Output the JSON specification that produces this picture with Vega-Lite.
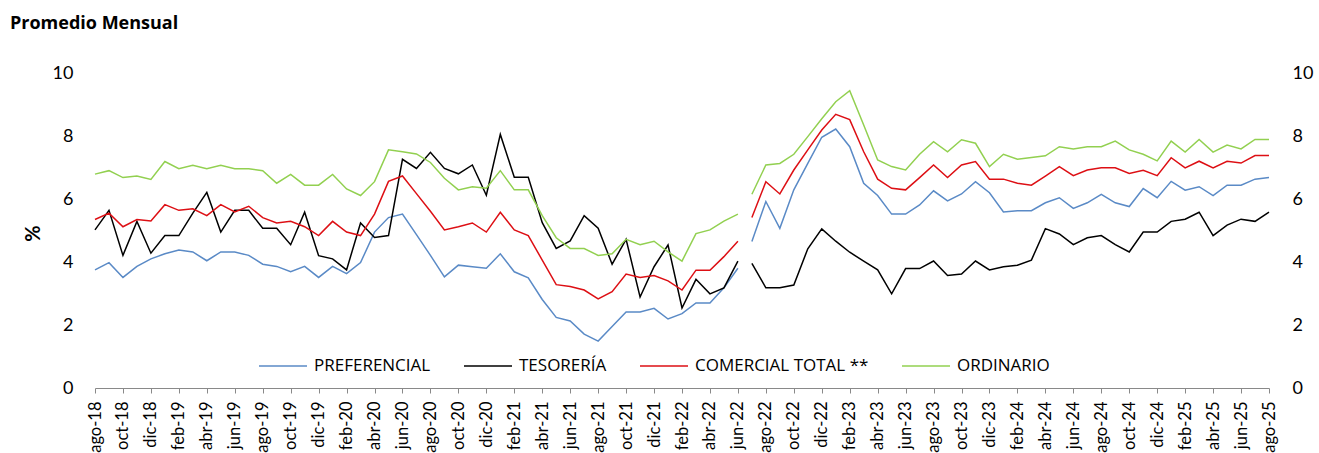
{
  "$schema": "https://vega.github.io/schema/vega-lite/v6.json",
  "autosize": "none",
  "width": 1174,
  "height": 315,
  "padding": {"left": 95, "top": 73, "right": 50, "bottom": 65},
  "background": "white",
  "title": {"text": "Promedio Mensual", "anchor": "start", "frame": "group", "dx": -85, "offset": 31, "font": "Open Sans", "fontSize": 18, "fontWeight": "bold", "color": "#000000"},
  "data": {"values": [
    {"mes": "ago-18", "tramo": 1, "PREFERENCIAL": 3.75, "TESORERÍA": 5.02, "COMERCIAL TOTAL **": 5.35, "ORDINARIO": 6.79},
    {"mes": "sep-18", "tramo": 1, "PREFERENCIAL": 3.98, "TESORERÍA": 5.64, "COMERCIAL TOTAL **": 5.55, "ORDINARIO": 6.90},
    {"mes": "oct-18", "tramo": 1, "PREFERENCIAL": 3.51, "TESORERÍA": 4.21, "COMERCIAL TOTAL **": 5.12, "ORDINARIO": 6.68},
    {"mes": "nov-18", "tramo": 1, "PREFERENCIAL": 3.86, "TESORERÍA": 5.29, "COMERCIAL TOTAL **": 5.35, "ORDINARIO": 6.73},
    {"mes": "dic-18", "tramo": 1, "PREFERENCIAL": 4.10, "TESORERÍA": 4.28, "COMERCIAL TOTAL **": 5.30, "ORDINARIO": 6.62},
    {"mes": "ene-19", "tramo": 1, "PREFERENCIAL": 4.26, "TESORERÍA": 4.84, "COMERCIAL TOTAL **": 5.82, "ORDINARIO": 7.19},
    {"mes": "feb-19", "tramo": 1, "PREFERENCIAL": 4.38, "TESORERÍA": 4.84, "COMERCIAL TOTAL **": 5.64, "ORDINARIO": 6.96},
    {"mes": "mar-19", "tramo": 1, "PREFERENCIAL": 4.32, "TESORERÍA": 5.55, "COMERCIAL TOTAL **": 5.69, "ORDINARIO": 7.07},
    {"mes": "abr-19", "tramo": 1, "PREFERENCIAL": 4.04, "TESORERÍA": 6.21, "COMERCIAL TOTAL **": 5.47, "ORDINARIO": 6.96},
    {"mes": "may-19", "tramo": 1, "PREFERENCIAL": 4.32, "TESORERÍA": 4.95, "COMERCIAL TOTAL **": 5.82, "ORDINARIO": 7.07},
    {"mes": "jun-19", "tramo": 1, "PREFERENCIAL": 4.32, "TESORERÍA": 5.64, "COMERCIAL TOTAL **": 5.59, "ORDINARIO": 6.96},
    {"mes": "jul-19", "tramo": 1, "PREFERENCIAL": 4.21, "TESORERÍA": 5.64, "COMERCIAL TOTAL **": 5.77, "ORDINARIO": 6.96},
    {"mes": "ago-19", "tramo": 1, "PREFERENCIAL": 3.93, "TESORERÍA": 5.07, "COMERCIAL TOTAL **": 5.41, "ORDINARIO": 6.90},
    {"mes": "sep-19", "tramo": 1, "PREFERENCIAL": 3.86, "TESORERÍA": 5.07, "COMERCIAL TOTAL **": 5.24, "ORDINARIO": 6.50},
    {"mes": "oct-19", "tramo": 1, "PREFERENCIAL": 3.69, "TESORERÍA": 4.55, "COMERCIAL TOTAL **": 5.29, "ORDINARIO": 6.78},
    {"mes": "nov-19", "tramo": 1, "PREFERENCIAL": 3.86, "TESORERÍA": 5.58, "COMERCIAL TOTAL **": 5.12, "ORDINARIO": 6.44},
    {"mes": "dic-19", "tramo": 1, "PREFERENCIAL": 3.51, "TESORERÍA": 4.20, "COMERCIAL TOTAL **": 4.84, "ORDINARIO": 6.44},
    {"mes": "ene-20", "tramo": 1, "PREFERENCIAL": 3.86, "TESORERÍA": 4.10, "COMERCIAL TOTAL **": 5.29, "ORDINARIO": 6.78},
    {"mes": "feb-20", "tramo": 1, "PREFERENCIAL": 3.63, "TESORERÍA": 3.75, "COMERCIAL TOTAL **": 4.95, "ORDINARIO": 6.32},
    {"mes": "mar-20", "tramo": 1, "PREFERENCIAL": 3.98, "TESORERÍA": 5.24, "COMERCIAL TOTAL **": 4.84, "ORDINARIO": 6.11},
    {"mes": "abr-20", "tramo": 1, "PREFERENCIAL": 4.95, "TESORERÍA": 4.78, "COMERCIAL TOTAL **": 5.52, "ORDINARIO": 6.55},
    {"mes": "may-20", "tramo": 1, "PREFERENCIAL": 5.41, "TESORERÍA": 4.84, "COMERCIAL TOTAL **": 6.56, "ORDINARIO": 7.56},
    {"mes": "jun-20", "tramo": 1, "PREFERENCIAL": 5.52, "TESORERÍA": 7.26, "COMERCIAL TOTAL **": 6.73, "ORDINARIO": 7.50},
    {"mes": "jul-20", "tramo": 1, "PREFERENCIAL": 4.87, "TESORERÍA": 6.97, "COMERCIAL TOTAL **": 6.17, "ORDINARIO": 7.43},
    {"mes": "ago-20", "tramo": 1, "PREFERENCIAL": 4.21, "TESORERÍA": 7.48, "COMERCIAL TOTAL **": 5.61, "ORDINARIO": 7.16},
    {"mes": "sep-20", "tramo": 1, "PREFERENCIAL": 3.53, "TESORERÍA": 6.97, "COMERCIAL TOTAL **": 5.02, "ORDINARIO": 6.66},
    {"mes": "oct-20", "tramo": 1, "PREFERENCIAL": 3.90, "TESORERÍA": 6.80, "COMERCIAL TOTAL **": 5.12, "ORDINARIO": 6.29},
    {"mes": "nov-20", "tramo": 1, "PREFERENCIAL": 3.85, "TESORERÍA": 7.08, "COMERCIAL TOTAL **": 5.24, "ORDINARIO": 6.39},
    {"mes": "dic-20", "tramo": 1, "PREFERENCIAL": 3.80, "TESORERÍA": 6.12, "COMERCIAL TOTAL **": 4.95, "ORDINARIO": 6.34},
    {"mes": "ene-21", "tramo": 1, "PREFERENCIAL": 4.26, "TESORERÍA": 8.05, "COMERCIAL TOTAL **": 5.58, "ORDINARIO": 6.90},
    {"mes": "feb-21", "tramo": 1, "PREFERENCIAL": 3.69, "TESORERÍA": 6.69, "COMERCIAL TOTAL **": 5.02, "ORDINARIO": 6.29},
    {"mes": "mar-21", "tramo": 1, "PREFERENCIAL": 3.50, "TESORERÍA": 6.69, "COMERCIAL TOTAL **": 4.84, "ORDINARIO": 6.29},
    {"mes": "abr-21", "tramo": 1, "PREFERENCIAL": 2.81, "TESORERÍA": 5.25, "COMERCIAL TOTAL **": 4.06, "ORDINARIO": 5.47},
    {"mes": "may-21", "tramo": 1, "PREFERENCIAL": 2.24, "TESORERÍA": 4.43, "COMERCIAL TOTAL **": 3.28, "ORDINARIO": 4.77},
    {"mes": "jun-21", "tramo": 1, "PREFERENCIAL": 2.13, "TESORERÍA": 4.67, "COMERCIAL TOTAL **": 3.22, "ORDINARIO": 4.43},
    {"mes": "jul-21", "tramo": 1, "PREFERENCIAL": 1.71, "TESORERÍA": 5.47, "COMERCIAL TOTAL **": 3.11, "ORDINARIO": 4.43},
    {"mes": "ago-21", "tramo": 1, "PREFERENCIAL": 1.49, "TESORERÍA": 5.07, "COMERCIAL TOTAL **": 2.83, "ORDINARIO": 4.21},
    {"mes": "sep-21", "tramo": 1, "PREFERENCIAL": 1.95, "TESORERÍA": 3.93, "COMERCIAL TOTAL **": 3.06, "ORDINARIO": 4.26},
    {"mes": "oct-21", "tramo": 1, "PREFERENCIAL": 2.41, "TESORERÍA": 4.72, "COMERCIAL TOTAL **": 3.62, "ORDINARIO": 4.72},
    {"mes": "nov-21", "tramo": 1, "PREFERENCIAL": 2.41, "TESORERÍA": 2.89, "COMERCIAL TOTAL **": 3.51, "ORDINARIO": 4.55},
    {"mes": "dic-21", "tramo": 1, "PREFERENCIAL": 2.53, "TESORERÍA": 3.85, "COMERCIAL TOTAL **": 3.57, "ORDINARIO": 4.66},
    {"mes": "ene-22", "tramo": 1, "PREFERENCIAL": 2.19, "TESORERÍA": 4.54, "COMERCIAL TOTAL **": 3.40, "ORDINARIO": 4.32},
    {"mes": "feb-22", "tramo": 1, "PREFERENCIAL": 2.36, "TESORERÍA": 2.54, "COMERCIAL TOTAL **": 3.11, "ORDINARIO": 4.03},
    {"mes": "mar-22", "tramo": 1, "PREFERENCIAL": 2.70, "TESORERÍA": 3.45, "COMERCIAL TOTAL **": 3.74, "ORDINARIO": 4.90},
    {"mes": "abr-22", "tramo": 1, "PREFERENCIAL": 2.70, "TESORERÍA": 2.99, "COMERCIAL TOTAL **": 3.74, "ORDINARIO": 5.02},
    {"mes": "may-22", "tramo": 1, "PREFERENCIAL": 3.18, "TESORERÍA": 3.18, "COMERCIAL TOTAL **": 4.17, "ORDINARIO": 5.30},
    {"mes": "jun-22", "tramo": 1, "PREFERENCIAL": 3.80, "TESORERÍA": 4.03, "COMERCIAL TOTAL **": 4.66, "ORDINARIO": 5.52},
    {"mes": "jul-22", "tramo": 2, "PREFERENCIAL": 4.65, "TESORERÍA": 3.96, "COMERCIAL TOTAL **": 5.41, "ORDINARIO": 6.15},
    {"mes": "ago-22", "tramo": 2, "PREFERENCIAL": 5.92, "TESORERÍA": 3.18, "COMERCIAL TOTAL **": 6.55, "ORDINARIO": 7.08},
    {"mes": "sep-22", "tramo": 2, "PREFERENCIAL": 5.07, "TESORERÍA": 3.18, "COMERCIAL TOTAL **": 6.16, "ORDINARIO": 7.13},
    {"mes": "oct-22", "tramo": 2, "PREFERENCIAL": 6.29, "TESORERÍA": 3.27, "COMERCIAL TOTAL **": 6.92, "ORDINARIO": 7.42},
    {"mes": "nov-22", "tramo": 2, "PREFERENCIAL": 7.13, "TESORERÍA": 4.42, "COMERCIAL TOTAL **": 7.56, "ORDINARIO": 7.98},
    {"mes": "dic-22", "tramo": 2, "PREFERENCIAL": 7.96, "TESORERÍA": 5.05, "COMERCIAL TOTAL **": 8.19, "ORDINARIO": 8.55},
    {"mes": "ene-23", "tramo": 2, "PREFERENCIAL": 8.22, "TESORERÍA": 4.66, "COMERCIAL TOTAL **": 8.69, "ORDINARIO": 9.09},
    {"mes": "feb-23", "tramo": 2, "PREFERENCIAL": 7.66, "TESORERÍA": 4.31, "COMERCIAL TOTAL **": 8.52, "ORDINARIO": 9.44},
    {"mes": "mar-23", "tramo": 2, "PREFERENCIAL": 6.50, "TESORERÍA": 4.03, "COMERCIAL TOTAL **": 7.50, "ORDINARIO": 8.35},
    {"mes": "abr-23", "tramo": 2, "PREFERENCIAL": 6.11, "TESORERÍA": 3.75, "COMERCIAL TOTAL **": 6.63, "ORDINARIO": 7.24},
    {"mes": "may-23", "tramo": 2, "PREFERENCIAL": 5.52, "TESORERÍA": 2.99, "COMERCIAL TOTAL **": 6.34, "ORDINARIO": 7.03},
    {"mes": "jun-23", "tramo": 2, "PREFERENCIAL": 5.52, "TESORERÍA": 3.79, "COMERCIAL TOTAL **": 6.29, "ORDINARIO": 6.92},
    {"mes": "jul-23", "tramo": 2, "PREFERENCIAL": 5.81, "TESORERÍA": 3.79, "COMERCIAL TOTAL **": 6.68, "ORDINARIO": 7.42},
    {"mes": "ago-23", "tramo": 2, "PREFERENCIAL": 6.26, "TESORERÍA": 4.03, "COMERCIAL TOTAL **": 7.08, "ORDINARIO": 7.82},
    {"mes": "sep-23", "tramo": 2, "PREFERENCIAL": 5.94, "TESORERÍA": 3.57, "COMERCIAL TOTAL **": 6.68, "ORDINARIO": 7.50},
    {"mes": "oct-23", "tramo": 2, "PREFERENCIAL": 6.16, "TESORERÍA": 3.62, "COMERCIAL TOTAL **": 7.08, "ORDINARIO": 7.88},
    {"mes": "nov-23", "tramo": 2, "PREFERENCIAL": 6.55, "TESORERÍA": 4.03, "COMERCIAL TOTAL **": 7.19, "ORDINARIO": 7.77},
    {"mes": "dic-23", "tramo": 2, "PREFERENCIAL": 6.20, "TESORERÍA": 3.75, "COMERCIAL TOTAL **": 6.63, "ORDINARIO": 7.03},
    {"mes": "ene-24", "tramo": 2, "PREFERENCIAL": 5.59, "TESORERÍA": 3.85, "COMERCIAL TOTAL **": 6.63, "ORDINARIO": 7.42},
    {"mes": "feb-24", "tramo": 2, "PREFERENCIAL": 5.63, "TESORERÍA": 3.90, "COMERCIAL TOTAL **": 6.50, "ORDINARIO": 7.26},
    {"mes": "mar-24", "tramo": 2, "PREFERENCIAL": 5.63, "TESORERÍA": 4.06, "COMERCIAL TOTAL **": 6.44, "ORDINARIO": 7.32},
    {"mes": "abr-24", "tramo": 2, "PREFERENCIAL": 5.88, "TESORERÍA": 5.06, "COMERCIAL TOTAL **": 6.73, "ORDINARIO": 7.37},
    {"mes": "may-24", "tramo": 2, "PREFERENCIAL": 6.04, "TESORERÍA": 4.89, "COMERCIAL TOTAL **": 7.03, "ORDINARIO": 7.66},
    {"mes": "jun-24", "tramo": 2, "PREFERENCIAL": 5.70, "TESORERÍA": 4.55, "COMERCIAL TOTAL **": 6.74, "ORDINARIO": 7.59},
    {"mes": "jul-24", "tramo": 2, "PREFERENCIAL": 5.88, "TESORERÍA": 4.77, "COMERCIAL TOTAL **": 6.92, "ORDINARIO": 7.66},
    {"mes": "ago-24", "tramo": 2, "PREFERENCIAL": 6.15, "TESORERÍA": 4.84, "COMERCIAL TOTAL **": 6.99, "ORDINARIO": 7.66},
    {"mes": "sep-24", "tramo": 2, "PREFERENCIAL": 5.88, "TESORERÍA": 4.55, "COMERCIAL TOTAL **": 6.99, "ORDINARIO": 7.84},
    {"mes": "oct-24", "tramo": 2, "PREFERENCIAL": 5.76, "TESORERÍA": 4.32, "COMERCIAL TOTAL **": 6.81, "ORDINARIO": 7.56},
    {"mes": "nov-24", "tramo": 2, "PREFERENCIAL": 6.33, "TESORERÍA": 4.95, "COMERCIAL TOTAL **": 6.91, "ORDINARIO": 7.42},
    {"mes": "dic-24", "tramo": 2, "PREFERENCIAL": 6.04, "TESORERÍA": 4.95, "COMERCIAL TOTAL **": 6.74, "ORDINARIO": 7.21},
    {"mes": "ene-25", "tramo": 2, "PREFERENCIAL": 6.56, "TESORERÍA": 5.29, "COMERCIAL TOTAL **": 7.31, "ORDINARIO": 7.84},
    {"mes": "feb-25", "tramo": 2, "PREFERENCIAL": 6.28, "TESORERÍA": 5.36, "COMERCIAL TOTAL **": 6.99, "ORDINARIO": 7.49},
    {"mes": "mar-25", "tramo": 2, "PREFERENCIAL": 6.39, "TESORERÍA": 5.58, "COMERCIAL TOTAL **": 7.20, "ORDINARIO": 7.89},
    {"mes": "abr-25", "tramo": 2, "PREFERENCIAL": 6.11, "TESORERÍA": 4.84, "COMERCIAL TOTAL **": 6.99, "ORDINARIO": 7.49},
    {"mes": "may-25", "tramo": 2, "PREFERENCIAL": 6.44, "TESORERÍA": 5.17, "COMERCIAL TOTAL **": 7.20, "ORDINARIO": 7.71},
    {"mes": "jun-25", "tramo": 2, "PREFERENCIAL": 6.44, "TESORERÍA": 5.36, "COMERCIAL TOTAL **": 7.14, "ORDINARIO": 7.59},
    {"mes": "jul-25", "tramo": 2, "PREFERENCIAL": 6.63, "TESORERÍA": 5.29, "COMERCIAL TOTAL **": 7.38, "ORDINARIO": 7.89},
    {"mes": "ago-25", "tramo": 2, "PREFERENCIAL": 6.68, "TESORERÍA": 5.58, "COMERCIAL TOTAL **": 7.38, "ORDINARIO": 7.89}
  ]},
  "transform": [
    {"fold": ["PREFERENCIAL", "TESORERÍA", "COMERCIAL TOTAL **", "ORDINARIO"], "as": ["serie", "valor"]}
  ],
  "layer": [
    {
      "mark": {"type": "line", "strokeWidth": 1.5},
      "encoding": {
        "x": {
          "field": "mes", "type": "ordinal",
          "sort": ["ago-18","sep-18","oct-18","nov-18","dic-18","ene-19","feb-19","mar-19","abr-19","may-19","jun-19","jul-19","ago-19","sep-19","oct-19","nov-19","dic-19","ene-20","feb-20","mar-20","abr-20","may-20","jun-20","jul-20","ago-20","sep-20","oct-20","nov-20","dic-20","ene-21","feb-21","mar-21","abr-21","may-21","jun-21","jul-21","ago-21","sep-21","oct-21","nov-21","dic-21","ene-22","feb-22","mar-22","abr-22","may-22","jun-22","jul-22","ago-22","sep-22","oct-22","nov-22","dic-22","ene-23","feb-23","mar-23","abr-23","may-23","jun-23","jul-23","ago-23","sep-23","oct-23","nov-23","dic-23","ene-24","feb-24","mar-24","abr-24","may-24","jun-24","jul-24","ago-24","sep-24","oct-24","nov-24","dic-24","ene-25","feb-25","mar-25","abr-25","may-25","jun-25","jul-25","ago-25"],
          "scale": {"type": "point", "padding": 0},
          "axis": {
            "title": null,
            "values": ["ago-18","oct-18","dic-18","feb-19","abr-19","jun-19","ago-19","oct-19","dic-19","feb-20","abr-20","jun-20","ago-20","oct-20","dic-20","feb-21","abr-21","jun-21","ago-21","oct-21","dic-21","feb-22","abr-22","jun-22","ago-22","oct-22","dic-22","feb-23","abr-23","jun-23","ago-23","oct-23","dic-23","feb-24","abr-24","jun-24","ago-24","oct-24","dic-24","feb-25","abr-25","jun-25","ago-25"],
            "labelAngle": 270, "labelAlign": "right", "labelBaseline": "middle",
            "labelFont": "Lato", "labelFontSize": 16.5, "labelColor": "#000000",
            "labelPadding": 8, "labelOverlap": false,
            "tickSize": 5, "tickColor": "#898989", "domainColor": "#898989",
            "grid": false
          }
        },
        "y": {
          "field": "valor", "type": "quantitative",
          "scale": {"domain": [0, 10], "nice": false},
          "axis": {
            "orient": "left",
            "title": "%", "values": [0, 2, 4, 6, 8, 10],
            "grid": false, "domain": false, "ticks": false,
            "labelPadding": 22, "labelFont": "Lato", "labelFontSize": 18, "labelColor": "#000000",
            "titleFont": "Lato", "titleFontSize": 20, "titleFontWeight": "bold", "titleColor": "#000000",
            "titleAngle": 270, "titleX": -52, "titleY": 160, "titleAlign": "center", "titleBaseline": "bottom"
          }
        },
        "color": {
          "field": "serie", "type": "nominal",
          "scale": {"domain": ["PREFERENCIAL", "TESORERÍA", "COMERCIAL TOTAL **", "ORDINARIO"], "range": ["#5A8AC6", "#000000", "#DD0F14", "#92D050"]},
          "legend": {
            "orient": "none", "legendX": 163, "legendY": 268, "direction": "horizontal",
            "title": null, "symbolType": "stroke", "symbolSize": 2304, "symbolStrokeWidth": 1.5,
            "labelFont": "Open Sans", "labelFontSize": 17, "labelColor": "#000000", "labelLimit": 400,
            "columnPadding": 30, "labelOffset": 6
          }
        },
        "detail": {"field": "tramo", "type": "nominal"}
      }
    },
    {
      "mark": {"type": "line", "strokeOpacity": 0},
      "encoding": {
        "x": {
          "field": "mes", "type": "ordinal",
          "sort": ["ago-18","sep-18","oct-18","nov-18","dic-18","ene-19","feb-19","mar-19","abr-19","may-19","jun-19","jul-19","ago-19","sep-19","oct-19","nov-19","dic-19","ene-20","feb-20","mar-20","abr-20","may-20","jun-20","jul-20","ago-20","sep-20","oct-20","nov-20","dic-20","ene-21","feb-21","mar-21","abr-21","may-21","jun-21","jul-21","ago-21","sep-21","oct-21","nov-21","dic-21","ene-22","feb-22","mar-22","abr-22","may-22","jun-22","jul-22","ago-22","sep-22","oct-22","nov-22","dic-22","ene-23","feb-23","mar-23","abr-23","may-23","jun-23","jul-23","ago-23","sep-23","oct-23","nov-23","dic-23","ene-24","feb-24","mar-24","abr-24","may-24","jun-24","jul-24","ago-24","sep-24","oct-24","nov-24","dic-24","ene-25","feb-25","mar-25","abr-25","may-25","jun-25","jul-25","ago-25"]
        },
        "y": {
          "field": "valor", "type": "quantitative",
          "axis": {
            "orient": "right", "title": null, "values": [0, 2, 4, 6, 8, 10],
            "grid": false, "domain": false, "ticks": false,
            "labelPadding": 23, "labelFont": "Lato", "labelFontSize": 18, "labelColor": "#000000"
          }
        },
        "detail": {"field": "serie", "type": "nominal"}
      }
    }
  ],
  "resolve": {"axis": {"y": "independent"}},
  "config": {"view": {"stroke": null}}
}
